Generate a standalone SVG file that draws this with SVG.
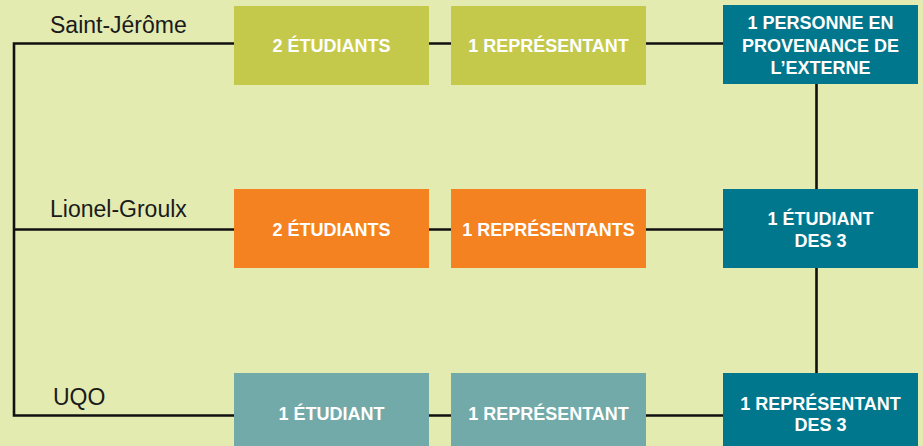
<svg xmlns="http://www.w3.org/2000/svg" width="923" height="446" viewBox="0 0 923 446">
<style>
.bg{fill:#e3ebb1}
.lime{fill:#c4c94c}
.orange{fill:#f58220}
.grey{fill:#72a9a9}
.teal{fill:#00778c}
.bt{font-family:"Liberation Sans",Arial,sans-serif;font-weight:bold;font-size:18px;fill:#ffffff;text-anchor:middle}
.lbl{font-family:"Liberation Sans",Arial,sans-serif;font-size:23px;fill:#1a1a1a}
.ln{fill:none;stroke:#111111;stroke-width:2.6}
</style>
<rect class="bg" x="0" y="0" width="923" height="446"/>
<g id="connectors">
<path class="ln" d="M234,43.5 H14 V415.5 H234"/>
<path class="ln" d="M14,229.5 H234"/>
<path class="ln" d="M429,43.5 H451 M646,43.5 H723"/>
<path class="ln" d="M429,229.5 H451 M646,229.5 H723"/>
<path class="ln" d="M429,415.5 H451 M646,415.5 H723"/>
<path class="ln" d="M816.5,84 V189 M816.5,268 V373"/>
</g>
<g id="label-saint-jerome"><text class="lbl" x="50" y="32.5">Saint-Jérôme</text></g>
<g id="label-lionel-groulx"><text class="lbl" x="50" y="216.5">Lionel-Groulx</text></g>
<g id="label-uqo"><text class="lbl" x="53" y="405">UQO</text></g>
<g id="sj-etudiants"><rect class="lime" x="234" y="6" width="195" height="79"/><text class="bt" x="331.5" y="52">2 ÉTUDIANTS</text></g>
<g id="sj-representant"><rect class="lime" x="451" y="6" width="195" height="79"/><text class="bt" x="548.5" y="52">1 REPRÉSENTANT</text></g>
<g id="externe"><rect class="teal" x="723" y="5" width="195" height="79"/><text class="bt" x="820.5" y="29">1 PERSONNE EN</text><text class="bt" x="820.5" y="51.5">PROVENANCE DE</text><text class="bt" x="820.5" y="74">L’EXTERNE</text></g>
<g id="lg-etudiants"><rect class="orange" x="234" y="189" width="195" height="79"/><text class="bt" x="331.5" y="235.5">2 ÉTUDIANTS</text></g>
<g id="lg-representants"><rect class="orange" x="451" y="189" width="195" height="79"/><text class="bt" x="548.5" y="235.5">1 REPRÉSENTANTS</text></g>
<g id="etudiant-des-3"><rect class="teal" x="723" y="189" width="195" height="79"/><text class="bt" x="820.5" y="225">1 ÉTUDIANT</text><text class="bt" x="820.5" y="247">DES 3</text></g>
<g id="uqo-etudiant"><rect class="grey" x="234" y="373" width="195" height="79"/><text class="bt" x="331.5" y="420">1 ÉTUDIANT</text></g>
<g id="uqo-representant"><rect class="grey" x="451" y="373" width="195" height="79"/><text class="bt" x="548.5" y="420">1 REPRÉSENTANT</text></g>
<g id="representant-des-3"><rect class="teal" x="723" y="373" width="195" height="79"/><text class="bt" x="820.5" y="409.5">1 REPRÉSENTANT</text><text class="bt" x="820.5" y="431">DES 3</text></g>
</svg>
